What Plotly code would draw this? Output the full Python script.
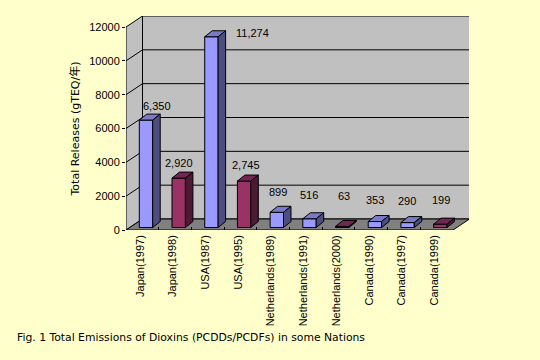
import plotly.graph_objects as go

categories = ["Japan(1997)", "Japan(1998)", "USA(1987)", "USA(1995)", "Netherlands(1989)",
              "Netherlands(1991)", "Netherlands(2000)", "Canada(1990)", "Canada(1997)", "Canada(1999)"]
values = [6350, 2920, 11274, 2745, 899, 516, 63, 353, 290, 199]
bar_groups = ["blue", "red", "blue", "red", "blue", "blue", "red", "blue", "blue", "red"]
value_labels = ["6,350", "2,920", "11,274", "2,745", "899", "516", "63", "353", "290", "199"]
label_shift_x = [11, 0, 41, 2, 1, -1, 2, 0, -1, 1]
label_shift_y = [0, 1, -10, 2, 6, 10, 16, 8, 8, 10]
y_ticks = [0, 2000, 4000, 6000, 8000, 10000, 12000]

palette = {"blue": ("#9999FF", "#7A7AC8", "#4D4D80"), "red": ("#993366", "#732650", "#4D1A33")}
BG = "#FFFFCC"
L, R, B, T = 126, 469, 230, 16
XU = 32.7      # px per category
YU = 203 / 12000  # px per value unit
DX, DY = 16.5 / XU, 11 / YU
BDX, BDY = 7.5 / XU, 6 / YU
N = len(categories)

fig = go.Figure()


def poly(xs, ys, fill, line="black", width=1):
    fig.add_trace(go.Scatter(x=xs, y=ys, mode="lines", fill="toself", fillcolor=fill,
                             line=dict(color=line, width=width), hoverinfo="skip", showlegend=False))


def seg(xs, ys, width=1):
    fig.add_trace(go.Scatter(x=xs, y=ys, mode="lines", line=dict(color="black", width=width),
                             hoverinfo="skip", showlegend=False))


top = y_ticks[-1]
poly([0, 0, DX, DX, 0], [0, top, top + DY, DY, 0], "#C0C0C0")
poly([DX, N + DX, N + DX, DX, DX], [DY, DY, top + DY, top + DY, DY], "#C0C0C0")
poly([0, N, N + DX, DX, 0], [0, 0, DY, DY, 0], "#808080")
for t in y_ticks[1:-1]:
    seg([0, DX, N + DX], [t, t + DY, t + DY])

base = 2.5 / YU
W = 13.4 / XU
for i, (v, g) in enumerate(zip(values, bar_groups)):
    x0 = i + 0.407
    x1 = x0 + W
    y1 = base + v
    front, topc, side = palette[g]
    poly([x0, x1, x1, x0, x0], [base, base, y1, y1, base], front)
    poly([x0, x0 + BDX, x1 + BDX, x1, x0], [y1, y1 + BDY, y1 + BDY, y1, y1], topc)
    poly([x1, x1 + BDX, x1 + BDX, x1, x1], [base, base + BDY, y1 + BDY, y1, base], side)
    fig.add_annotation(x=i + 0.407 + W / 2, y=y1 + BDY, text=value_labels[i], showarrow=False,
                       xanchor="center", yanchor="bottom", xshift=label_shift_x[i], yshift=label_shift_y[i],
                       font=dict(size=11, color="black"))

fig.add_annotation(xref="paper", yref="paper", x=(15 - L) / (R - L), y=(B - 338) / (B - T),
                   text="Fig. 1 Total Emissions of Dioxins (PCDDs/PCDFs) in some Nations",
                   showarrow=False, xanchor="left", yanchor="middle",
                   font=dict(size=10.8, color="black", family="DejaVu Sans"))
fig.add_annotation(xref="paper", yref="paper", x=(74 - L) / (R - L), y=(B - 129.5) / (B - T),
                   text="Total Releases (gTEQ/年)", textangle=-90, showarrow=False,
                   xanchor="center", yanchor="middle",
                   font=dict(size=11, color="black", family="DejaVu Sans, Noto Sans CJK JP"))

fig.update_layout(
    width=540, height=360, autosize=False,
    paper_bgcolor=BG, plot_bgcolor=BG, showlegend=False,
    margin=dict(l=L, r=540 - R, t=T, b=360 - B, autoexpand=False),
    font=dict(family="Liberation Sans, Noto Sans CJK JP", size=11, color="black"),
    xaxis=dict(range=[0, (R - L) / XU], tickmode="array",
               tickvals=[i + 0.43 for i in range(N)], ticktext=categories,
               tickangle=-90, ticks="", showgrid=False, zeroline=False, showline=False, ticklabelstandoff=2,
               minor=dict(tickmode="array", tickvals=list(range(1, N)), ticks="inside", ticklen=3,
                          tickcolor="black", showgrid=False)),
    yaxis=dict(range=[0, (B - T) / YU], tickmode="array", tickvals=y_ticks, tickformat="d",
               ticks="outside", ticklen=3, tickcolor="black", showgrid=False, zeroline=False, showline=False),
)
fig.write_html("out.html", config=dict(displayModeBar=False),
               post_script="document.body.style.margin='0';document.body.style.background='#FFFFCC';document.documentElement.style.overflow='hidden';")
